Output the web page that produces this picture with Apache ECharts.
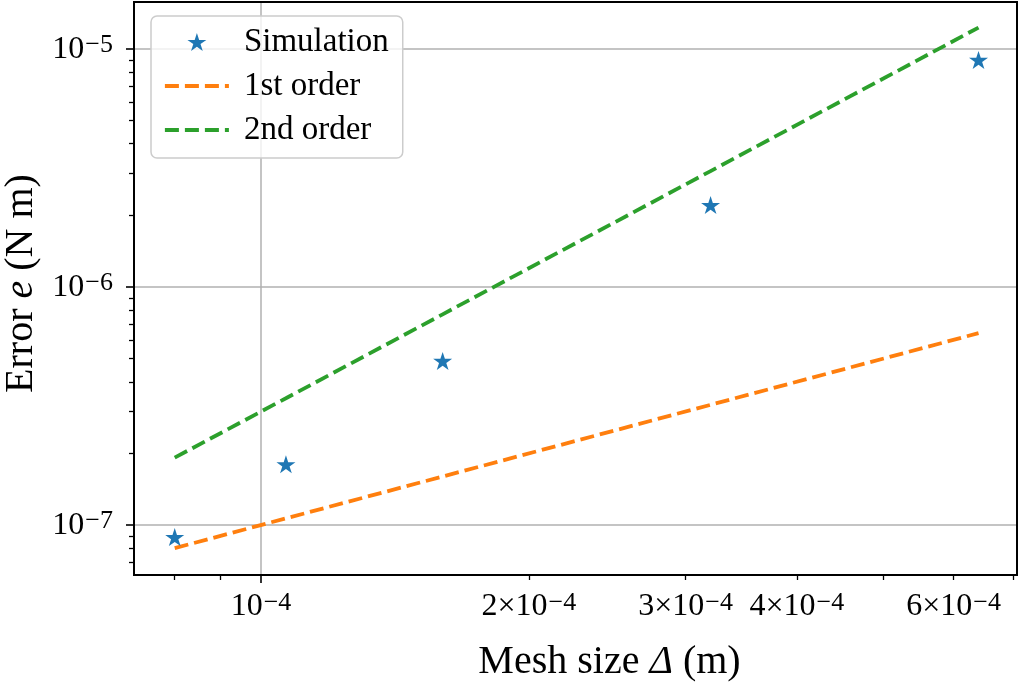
<!DOCTYPE html>
<html>
<head>
<meta charset="utf-8">
<script src="https://cdn.jsdelivr.net/npm/echarts@6/dist/echarts.min.js"></script>
<style>
html,body{margin:0;padding:0;background:#fff;}
#chart{width:1020px;height:689px;}
</style>
</head>
<body>
<div id="chart"></div>
<script>
// ---- data ----
const meshSize    = [0.8e-4, 1.0667e-4, 1.6e-4, 3.2e-4, 6.4e-4];
const simError    = [8.9e-8, 1.80e-7, 4.89e-7, 2.21e-6, 8.99e-6];
const firstOrder  = [8.0e-8, 1.067e-7, 1.6e-7, 3.2e-7, 6.4e-7];
const secondOrder = [1.92e-7, 3.41e-7, 7.68e-7, 3.07e-6, 1.23e-5];
const seriesNames = ['Simulation', '1st order', '2nd order'];

const xMajorTicks = [1e-4];
const xMinorTicks = [0.8e-4, 0.9e-4, 2e-4, 3e-4, 4e-4, 5e-4, 6e-4, 7e-4];
const xTickLabels = [1e-4, 2e-4, 3e-4, 4e-4, 6e-4];
const yMajorTicks = [1e-7, 1e-6, 1e-5];
const yMinorTicks = [7e-8, 8e-8, 9e-8,
  2e-7, 3e-7, 4e-7, 5e-7, 6e-7, 7e-7, 8e-7, 9e-7,
  2e-6, 3e-6, 4e-6, 5e-6, 6e-6, 7e-6, 8e-6, 9e-6];
const xRange = [7.20e-5, 7.07e-4];
const yRange = [6.17e-8, 1.575e-5];

// ---- styling ----
const FONT = '"Liberation Serif", "DejaVu Serif", serif';
const C0 = '#1f77b4', C1 = '#ff7f0e', C2 = '#2ca02c';
const DASH = [14, 6];

function starPath() {
  const pts = [];
  for (let i = 0; i < 10; i++) {
    const r = i % 2 === 0 ? 1 : 0.381966;
    const a = Math.PI / 2 + i * Math.PI / 5;
    pts.push((r * Math.cos(a)).toFixed(4) + ' ' + (-r * Math.sin(a)).toFixed(4));
  }
  return 'path://M' + pts.join(' L') + ' Z';
}
const STAR = starPath();

const rich = {
  b: { fontFamily: FONT, fontSize: 32, color: '#000', verticalAlign: 'bottom' },
  s: { fontFamily: FONT, fontSize: 26, color: '#000', verticalAlign: 'top', padding: [0, 0, 7, 1] }
};
function sciLabel(v) {
  const e = Math.floor(Math.log10(v) + 1e-9);
  const m = Math.round(v / Math.pow(10, e));
  const exp = '{s|' + (e < 0 ? '\u2212' + (-e) : e) + '}';
  return (m === 1 ? '{b|10}' : '{b|' + m + '\u00d710}') + exp;
}

const chart = echarts.init(document.getElementById('chart'), null, { renderer: 'canvas' });
const gridRect = { left: 134, right: 3, top: 2, bottom: 114, containLabel: false, outerBoundsMode: 'none' };

chart.setOption({
  animation: false,
  backgroundColor: '#fff',
  grid: [
    Object.assign({ show: true, borderColor: '#000', borderWidth: 2, backgroundColor: 'transparent', z: 3 }, gridRect),
    Object.assign({ show: false }, gridRect)
  ],
  legend: {
    orient: 'vertical',
    left: 151, top: 16,
    padding: [9, 14, 11, 12],
    itemWidth: 64, itemHeight: 18,
    itemGap: 10,
    symbolKeepAspect: true,
    backgroundColor: 'rgba(255,255,255,0.8)',
    borderColor: '#cccccc', borderWidth: 1.5, borderRadius: 6,
    textStyle: { fontFamily: FONT, fontSize: 33, color: '#000', padding: [0, 0, 0, 10], lineHeight: 34 },
    data: [
      { name: seriesNames[0], icon: STAR },
      { name: seriesNames[1], itemStyle: { opacity: 0 }, lineStyle: { color: C1, width: 3.8, type: DASH } },
      { name: seriesNames[2], itemStyle: { opacity: 0 }, lineStyle: { color: C2, width: 3.8, type: DASH } }
    ],
    z: 10
  },
  xAxis: [
    {
      type: 'log', gridIndex: 0, min: xRange[0], max: xRange[1],
      position: 'bottom',
      axisLine: { show: false },
      axisTick: { show: true, length: 8, lineStyle: { color: '#000', width: 1.6 }, customValues: xMajorTicks },
      axisLabel: { show: true, margin: 15, customValues: xTickLabels, formatter: sciLabel, rich: rich },
      splitLine: { show: true, lineStyle: { color: '#b0b0b0', width: 1.5 } },
      minorTick: { show: false }, minorSplitLine: { show: false },
      name: 'Mesh size {i|\u0394} (m)', nameLocation: 'middle', nameGap: 67,
      nameTextStyle: {
        fontFamily: FONT, fontSize: 40, color: '#000', padding: [0, 0, 0, 68],
        rich: { i: { fontFamily: FONT, fontSize: 40, fontStyle: 'italic', color: '#000' } }
      }
    },
    {
      type: 'log', gridIndex: 1, min: xRange[0], max: xRange[1],
      position: 'bottom',
      axisLine: { show: false },
      axisTick: { show: true, length: 5, lineStyle: { color: '#000', width: 1.3 }, customValues: xMinorTicks },
      axisLabel: { show: false },
      splitLine: { show: false }
    }
  ],
  yAxis: [
    {
      type: 'log', gridIndex: 0, min: yRange[0], max: yRange[1],
      position: 'left',
      axisLine: { show: false },
      axisTick: { show: true, length: 8, lineStyle: { color: '#000', width: 1.6 }, customValues: yMajorTicks },
      axisLabel: { show: true, margin: 21, customValues: yMajorTicks, formatter: sciLabel, rich: rich },
      splitLine: { show: true, lineStyle: { color: '#b0b0b0', width: 1.5 } },
      minorTick: { show: false }, minorSplitLine: { show: false },
      name: 'Error {i|e} (N m)', nameLocation: 'middle', nameGap: 90, nameRotate: 90,
      nameTextStyle: {
        fontFamily: FONT, fontSize: 40, color: '#000', padding: [0, 0, 0, 10],
        rich: { i: { fontFamily: FONT, fontSize: 40, fontStyle: 'italic', color: '#000' } }
      }
    },
    {
      type: 'log', gridIndex: 1, min: yRange[0], max: yRange[1],
      position: 'left',
      axisLine: { show: false },
      axisTick: { show: true, length: 5, lineStyle: { color: '#000', width: 1.3 }, customValues: yMinorTicks },
      axisLabel: { show: false },
      splitLine: { show: false }
    }
  ],
  series: [
    {
      name: seriesNames[0], type: 'scatter', xAxisIndex: 0, yAxisIndex: 0,
      symbol: STAR, symbolSize: [19, 18],
      itemStyle: { color: C0, opacity: 1 },
      data: meshSize.map((x, i) => [x, simError[i]]),
      z: 5
    },
    {
      name: seriesNames[1], type: 'line', xAxisIndex: 0, yAxisIndex: 0,
      symbol: 'none', showSymbol: false,
      lineStyle: { color: C1, width: 3.8, type: DASH, cap: 'butt' },
      itemStyle: { color: C1 },
      data: meshSize.map((x, i) => [x, firstOrder[i]]),
      z: 4
    },
    {
      name: seriesNames[2], type: 'line', xAxisIndex: 0, yAxisIndex: 0,
      symbol: 'none', showSymbol: false,
      lineStyle: { color: C2, width: 3.8, type: DASH, cap: 'butt' },
      itemStyle: { color: C2 },
      data: meshSize.map((x, i) => [x, secondOrder[i]]),
      z: 4
    }
  ]
});
</script>
</body>
</html>
